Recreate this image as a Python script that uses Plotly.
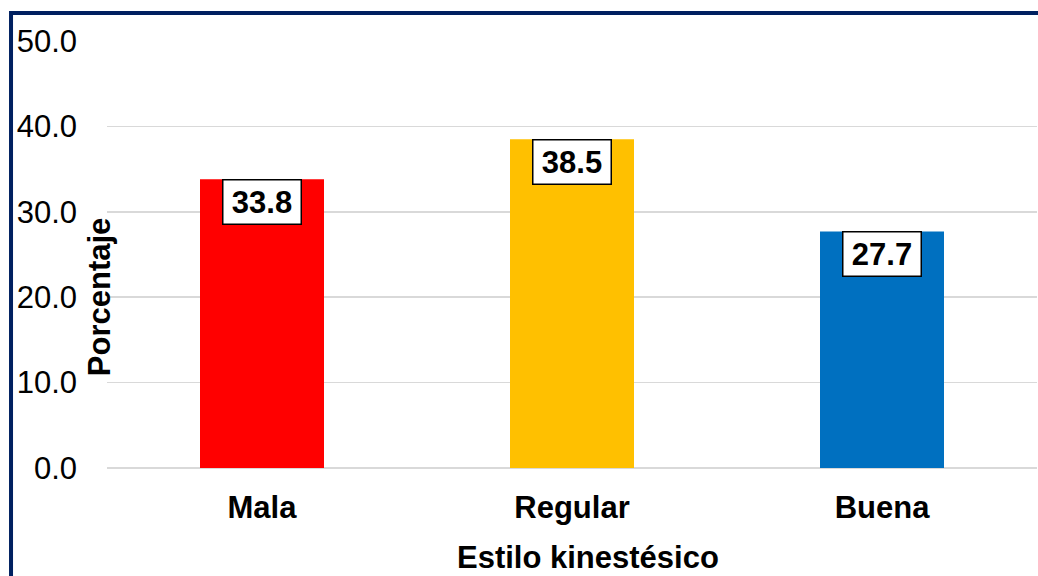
import plotly.graph_objects as go

categories = ["Mala", "Regular", "Buena"]
values = [33.8, 38.5, 27.7]
colors = ["#FF0000", "#FFC000", "#0070C0"]
tick_vals = [0, 10, 20, 30, 40, 50]
tick_text = ["0.0", "10.0", "20.0", "30.0", "40.0", "50.0"]

FONT = "Arial, Liberation Sans, sans-serif"

fig = go.Figure()
fig.add_trace(go.Bar(x=categories, y=values, marker=dict(color=colors, line=dict(width=0)),
                     width=0.4, hoverinfo="skip"))

for c, v in zip(categories, values):
    fig.add_annotation(x=c, y=v, xref="x", yref="y", text=f"<b>{v:.1f}</b>",
                       showarrow=False, yanchor="top", xanchor="center",
                       width=67, height=33,
                       bgcolor="white", bordercolor="black", borderwidth=1.5, borderpad=5,
                       font=dict(family=FONT, size=31, color="black"))

fig.add_annotation(x=-0.0086, y=0.40, xref="paper", yref="paper", text="<b>Porcentaje</b>",
                   textangle=-90, showarrow=False, xanchor="center", yanchor="middle",
                   font=dict(family=FONT, size=31, color="black"))
fig.add_annotation(x=0.517, y=-0.21, xref="paper", yref="paper", text="<b>Estilo kinestésico</b>",
                   showarrow=False, xanchor="center", yanchor="middle",
                   font=dict(family=FONT, size=31, color="black"))

fig.add_shape(type="rect", xref="paper", yref="paper", x0=-0.1032, x1=1.02, y0=-0.4, y1=1.0656,
              line=dict(color="#002060", width=4), fillcolor="rgba(0,0,0,0)", layer="above")

fig.update_layout(
    width=1038, height=576,
    margin=dict(l=107, r=1, t=41, b=108),
    paper_bgcolor="white", plot_bgcolor="white",
    showlegend=False, bargap=0.6,
    font=dict(family=FONT, size=31, color="black"),
    xaxis=dict(showline=False, showgrid=False, ticks="", ticklabelstandoff=18,
               tickfont=dict(family=FONT, size=31, color="black", weight="bold")),
    yaxis=dict(range=[0, 50], tickvals=tick_vals, ticktext=tick_text, showline=False,
               showgrid=True, gridcolor="#d9d9d9", gridwidth=1.5, zeroline=True,
               zerolinecolor="#d9d9d9", zerolinewidth=1.5, ticks="", ticklabelstandoff=29,
               tickfont=dict(family=FONT, size=31, color="black")),
)

fig.write_html(
    "out.html",
    config={"displayModeBar": False, "staticPlot": True},
    post_script="document.body.style.margin='0';document.body.style.overflow='hidden';",
)
